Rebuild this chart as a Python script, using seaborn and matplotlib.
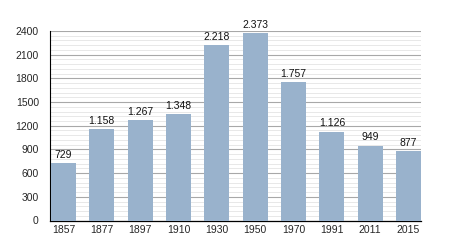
import matplotlib
matplotlib.use("Agg")
import matplotlib.pyplot as plt
import seaborn as sns
import pandas as pd
from matplotlib.ticker import MultipleLocator

years = ["1857", "1877", "1897", "1910", "1930", "1950", "1970", "1991", "2011", "2015"]
population = [729, 1158, 1267, 1348, 2218, 2373, 1757, 1126, 949, 877]
value_labels = ["729", "1.158", "1.267", "1.348", "2.218", "2.373", "1.757", "1.126", "949", "877"]
y_ticks = [0, 300, 600, 900, 1200, 1500, 1800, 2100, 2400]

df = pd.DataFrame({"year": years, "population": population})

sns.set_style("white")
plt.rcParams["font.family"] = ["Liberation Sans", "DejaVu Sans"]

fig = plt.figure(figsize=(4.5, 2.5), dpi=100)
ax = fig.add_axes([0.111, 0.118, 0.825, 0.758])

sns.barplot(data=df, x="year", y="population", color="#99b2cc", saturation=1,
            width=0.65, ax=ax, zorder=3, linewidth=0, edgecolor="none")

ax.set_ylim(0, 2400)
ax.set_xlim(-0.35, 9.33)
ax.set_yticks(y_ticks)
ax.yaxis.set_minor_locator(MultipleLocator(60))
ax.grid(which="major", axis="y", color="#a8a8a8", linewidth=0.8, zorder=0)
ax.grid(which="minor", axis="y", color="#e4e4e4", linewidth=0.6, zorder=0)
ax.set_axisbelow(True)

for s in ["top", "right"]:
    ax.spines[s].set_visible(False)
ax.spines["left"].set_color("black")
ax.spines["bottom"].set_color("black")
ax.spines["left"].set_linewidth(0.8)
ax.spines["bottom"].set_linewidth(0.9)

ax.tick_params(axis="y", which="major", length=6, width=0.7, color="black",
               labelsize=7.5, pad=2, direction="out")
ax.tick_params(axis="y", which="minor", length=3, width=0.5, color="black", direction="out")
ax.tick_params(axis="x", which="both", length=0, labelsize=7.5, pad=3)
ax.set_xlabel("")
ax.set_ylabel("")

for i, (v, lab) in enumerate(zip(population, value_labels)):
    ax.text(i, v + 40, lab, ha="center", va="bottom", fontsize=7.5, color="#111111")

fig.savefig("out.png", dpi=100)
